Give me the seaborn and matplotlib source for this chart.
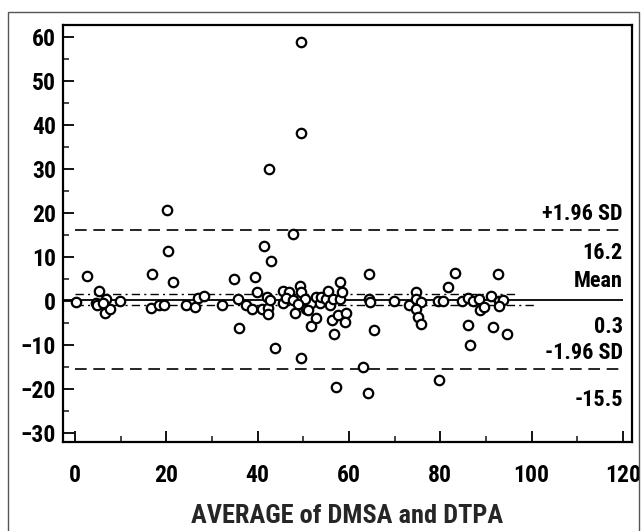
import numpy as np
import pandas as pd
import matplotlib
matplotlib.use("Agg")
import matplotlib.pyplot as plt
from matplotlib.patches import Rectangle
from matplotlib.ticker import MultipleLocator
from matplotlib import font_manager
import seaborn as sns

# average of the two methods (x) and their difference (y)
avg = [0.2, 2.7, 5.3, 4.7, 4.9, 6.6, 7.8, 6.8, 6.1, 9.9, 16.8, 16.6, 18.5, 19.5, 21.4,
       20.2, 20.4, 24.3, 26.3, 27.0, 28.2,
       32.3, 34.8, 35.8, 36.0, 37.4, 38.7, 39.4, 39.8, 40.9, 42.0, 42.2, 42.3, 42.7,
       43.8, 42.9, 41.4, 42.5,
       45.5, 46.9, 45.6, 46.3, 47.8, 47.7, 48.3, 49.3, 49.6, 49.5, 49.5, 49.6, 50.6,
       51.8, 52.8, 51.8, 51.1, 52.7, 53.6, 54.0, 50.3, 48.8,
       55.1, 55.5, 55.8, 56.2, 56.6, 56.7, 57.7, 58.0, 58.0, 58.6, 59.3, 59.1, 57.2,
       63.1, 64.2, 64.4, 64.4, 64.6, 65.5,
       69.8, 73.2, 74.7, 74.8, 75.9, 74.7, 75.2, 75.9, 79.7, 79.6, 80.6, 81.6, 83.2,
       84.7, 86.1, 87.2, 88.5, 88.7, 89.6, 86.1, 86.6, 91.6, 92.7, 91.2, 92.8, 93.8,
       92.8, 94.7]
diff = [-0.3, 5.8, 2.4, -0.5, -1.0, -2.8, -1.9, 0.4, -0.5, 0.1, 6.2, -1.5, -0.8, -0.8, 4.3,
        20.6, 11.3, -0.8, -1.3, 0.6, 1.2,
        -0.8, 5.0, 0.4, -6.2, -0.9, -1.9, 5.4, 2.1, -1.9, 1.0, -1.5, -3.0, 0.2,
        -10.6, 9.2, 12.4, 30.1,
        2.4, 2.1, -0.5, 0.6, 0.2, 15.2, -2.8, 3.4, 2.1, -12.9, 58.8, 38.1, -1.8,
        -5.7, -3.9, -0.5, -2.1, 1.0, -0.5, 1.0, 0.4, -0.6,
        0.4, 2.4, -0.8, -4.2, 0.4, -7.5, -3.2, 4.4, 0.4, 2.1, -2.8, -4.7, -19.4,
        -15.0, -20.9, 6.2, 0.4, -0.2, -6.5,
        0.1, -0.8, 2.1, 0.4, -0.2, -1.9, -3.6, -5.1, -17.9, 0.1, 0.1, 3.1, 6.3,
        0.1, 0.6, 0.1, 0.4, -2.1, -1.3, -5.5, -10.0, -5.9, 6.2, 1.1, 0.1, 0.2,
        -1.1, -7.5]

mean_diff = 0.3
upper_sd = 16.2
lower_sd = -15.5
ci_mean = [1.5, -0.9]
xticks = [0, 20, 40, 60, 80, 100, 120]
yticks = [-30, -20, -10, 0, 10, 20, 30, 40, 50, 60]

df = pd.DataFrame({"avg": avg, "diff": diff})

sns.set_style("ticks")

# pick a narrow face if one is installed
names = {f.name for f in font_manager.fontManager.ttflist}
narrow = [n for n in ["Liberation Sans Narrow", "DejaVu Sans Condensed",
                      "Roboto Condensed", "Open Sans Condensed"] if n in names]
plt.rcParams["font.family"] = narrow + ["DejaVu Sans"]
plt.rcParams["font.stretch"] = "condensed"
plt.rcParams["font.weight"] = "bold"
plt.rcParams["text.color"] = "black"

fig = plt.figure(figsize=(6.42, 5.31), dpi=100)
ax = fig.add_axes([63 / 642, 1 - 442 / 531, (632 - 63) / 642, (442 - 25) / 531])

# outer grey frame
fig.patches.append(Rectangle((8 / 642, -0.05), (639 - 8) / 642, 1.05 - 12 / 531,
                             transform=fig.transFigure, fill=False,
                             edgecolor="#555555", linewidth=1.0))

sns.scatterplot(data=df, x="avg", y="diff", ax=ax, marker="o", s=46,
                facecolor="white", edgecolor="black", linewidth=1.6, zorder=3)

ax.hlines(mean_diff, -2.6, 120, colors="black", linewidth=1.3, zorder=2)
ax.hlines([upper_sd, lower_sd], 0, 120, colors="black", linewidth=1.2,
          linestyles=(0, (7, 4)), zorder=2)
ax.hlines(ci_mean[0], 0, 97, colors="black", linewidth=1.0,
          linestyles=(0, (6, 3, 1.5, 3)), zorder=2)
ax.hlines(ci_mean[1], 0, 101, colors="black", linewidth=1.0,
          linestyles=(0, (6, 3, 1.5, 3)), zorder=2)

fs = 16
ax.text(120, 19.8, "+1.96 SD", ha="right", va="center", fontsize=fs)
ax.text(120, 10.9, "16.2", ha="right", va="center", fontsize=fs)
ax.text(120, 4.6, "Mean", ha="right", va="center", fontsize=fs)
ax.text(120, -5.9, "0.3", ha="right", va="center", fontsize=fs)
ax.text(120, -11.9, "-1.96 SD", ha="right", va="center", fontsize=fs)
ax.text(120, -22.5, "-15.5", ha="right", va="center", fontsize=fs)

ax.set_xlim(-2.6, 122)
ax.set_ylim(-32, 62.7)
ax.set_xticks(xticks)
ax.set_yticks(yticks)
ax.xaxis.set_minor_locator(MultipleLocator(10))
ax.yaxis.set_minor_locator(MultipleLocator(5))
ax.tick_params(which="major", direction="in", length=8, width=1.3,
               labelsize=17, colors="black")
ax.tick_params(which="minor", direction="in", length=4, width=1.2)
ax.tick_params(axis="x", pad=16)
ax.tick_params(axis="y", pad=5)

for sp in ax.spines.values():
    sp.set_linewidth(1.6)
    sp.set_color("black")

ax.set_xlabel("AVERAGE of DMSA and DTPA", fontsize=19, fontweight="bold",
              labelpad=12)
ax.set_ylabel("")

fig.savefig("out.png", dpi=100)
